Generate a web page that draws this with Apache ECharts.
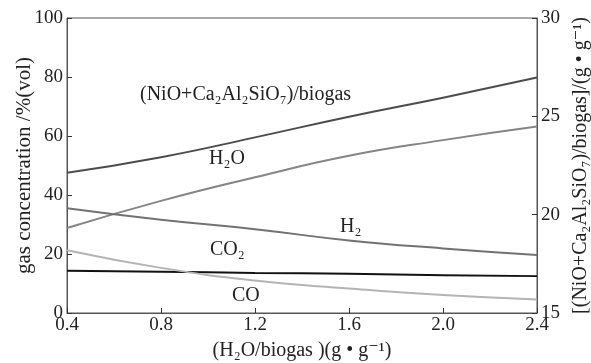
<!DOCTYPE html>
<html>
<head>
<meta charset="utf-8">
<script src="https://cdn.jsdelivr.net/npm/echarts@6/dist/echarts.min.js"></script>
<style>
  html, body { margin: 0; padding: 0; background: #fff; }
  #chart { width: 591px; height: 363px; }
</style>
</head>
<body>
<div id="chart"></div>
<script>
// x values (H2O/biogas, g/g)
const ratios = [0.4, 0.8, 1.2, 1.6, 2.0, 2.4]

// gas concentration, %(vol) - left axis
const h2oConc = [28.8, 38.0, 46.0, 53.3, 58.6, 63.2]
const h2Conc = [35.5, 31.6, 28.4, 24.6, 21.9, 19.7]
const co2Conc = [14.3, 14.0, 13.6, 13.3, 12.8, 12.5]
const coConc = [21.3, 15.3, 11.0, 8.3, 6.1, 4.6]

// (NiO+Ca2Al2SiO7)/biogas, g/g - right axis
const carrierRatio = [22.13, 22.92, 23.93, 24.98, 25.95, 26.97]

const serif = '"Liberation Serif", "DejaVu Serif", serif'

const pairs = (ys) => ratios.map((x, i) => [x, ys[i]])

const chart = echarts.init(document.getElementById('chart'))

const lineSeries = (name, data, color, axis) => ({
  name: name,
  type: 'line',
  yAxisIndex: axis,
  data: pairs(data),
  smooth: true,
  showSymbol: false,
  lineStyle: { color: color, width: 2 },
  z: 3
})

chart.setOption({
  animation: false,
  backgroundColor: '#fff',
  textStyle: { fontFamily: serif },
  grid: {
    left: 67, right: 54, top: 18, bottom: 50,
    outerBoundsMode: 'none',
    containLabel: false,
    show: true, borderColor: '#555', borderWidth: 1
  },
  xAxis: {
    type: 'value',
    min: 0.4, max: 2.4, interval: 0.4,
    axisLine: { lineStyle: { color: '#555' } },
    axisTick: { inside: true, length: 5, lineStyle: { color: '#333' } },
    axisLabel: {
      color: '#222', fontSize: 19, fontFamily: serif, margin: 3,
      formatter: (v) => v.toFixed(1)
    },
    splitLine: { show: false },
    name: '(H₂O/biogas )(g • g⁻¹)',
    nameLocation: 'middle',
    nameGap: 28,
    nameTextStyle: { color: '#222', fontSize: 20, fontFamily: serif }
  },
  yAxis: [
    {
      type: 'value',
      min: 0, max: 100, interval: 20,
      axisLine: { show: true, lineStyle: { color: '#555' } },
      axisTick: { show: true, inside: true, length: 5, lineStyle: { color: '#333' } },
      axisLabel: { color: '#222', fontSize: 19, fontFamily: serif, margin: 4 },
      splitLine: { show: false },
      name: 'gas concentration /%(vol)',
      nameLocation: 'middle',
      nameMoveOverlap: false,
      nameGap: 32,
      nameTextStyle: { color: '#222', fontSize: 21, fontFamily: serif }
    },
    {
      type: 'value',
      position: 'right',
      min: 15, max: 30, interval: 5,
      axisLine: { show: true, lineStyle: { color: '#555' } },
      axisTick: { show: true, inside: true, length: 5, lineStyle: { color: '#333' } },
      axisLabel: { color: '#222', fontSize: 19, fontFamily: serif, margin: 4 },
      splitLine: { show: false },
      name: '[(NiO+Ca₂Al₂SiO₇)/biogas]/(g • g⁻¹)',
      nameLocation: 'middle',
      nameRotate: 90,
      nameGap: 34,
      nameTextStyle: { color: '#222', fontSize: 20, fontFamily: serif }
    }
  ],
  graphic: [
    { type: 'text', left: 140, top: 85, style: { text: '(NiO+Ca₂Al₂SiO₇)/biogas', fontSize: 20, fontFamily: serif, fill: '#222' } },
    { type: 'text', left: 209, top: 149, style: { text: 'H₂O', fontSize: 20, fontFamily: serif, fill: '#222' } },
    { type: 'text', left: 340, top: 217, style: { text: 'H₂', fontSize: 20, fontFamily: serif, fill: '#222' } },
    { type: 'text', left: 210, top: 240, style: { text: 'CO₂', fontSize: 20, fontFamily: serif, fill: '#222' } },
    { type: 'text', left: 232, top: 286, style: { text: 'CO', fontSize: 20, fontFamily: serif, fill: '#222' } }
  ],
  series: [
    lineSeries('(NiO+Ca2Al2SiO7)/biogas', carrierRatio, '#4c4c4c', 1),
    lineSeries('H2O', h2oConc, '#858585', 0),
    lineSeries('H2', h2Conc, '#727272', 0),
    lineSeries('CO2', co2Conc, '#111111', 0),
    lineSeries('CO', coConc, '#b4b4b4', 0)
  ]
})
</script>
</body>
</html>
